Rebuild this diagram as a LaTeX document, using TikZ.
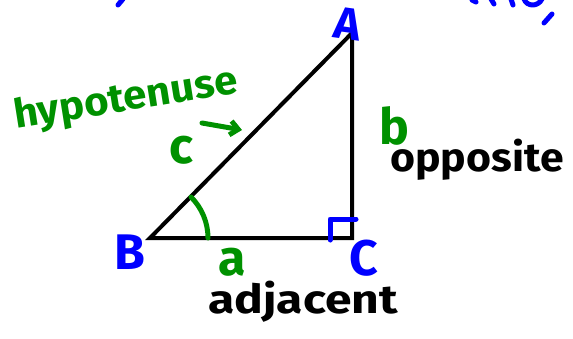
\documentclass[tikz,border=0pt]{standalone}
\usepackage{fontspec}
\setmainfont{Fira Sans}
\usetikzlibrary{arrows.meta}
\definecolor{penblue}{RGB}{0,0,255}
\definecolor{pengreen}{RGB}{0,145,0}
\begin{document}
\begin{tikzpicture}[x=1pt,y=-1pt,
  side/.style={line width=4pt,line join=miter},
  vlabel/.style={text=penblue,font=\fontsize{50}{50}\selectfont\bfseries,inner sep=0pt},
  slabel/.style={text=pengreen,font=\fontsize{50}{50}\selectfont\bfseries,inner sep=0pt},
  word/.style={text=black,font=\fontsize{40}{40}\selectfont\bfseries,inner sep=0pt},
  bluepen/.style={penblue,line width=5pt,line cap=round,line join=round},
  greenpen/.style={pengreen,line width=5pt,line cap=round,line join=round}]
\useasboundingbox (0,0) rectangle (573,338);
% triangle
\coordinate (B) at (150,238);
\coordinate (C) at (352,238);
\coordinate (A) at (352,33);
\draw[side] (B) -- (C) -- (A) -- cycle;
% right angle mark
\coordinate (r1) at (330,240);
\coordinate (r2) at (330,219);
\coordinate (r3) at (356,219);
\draw[bluepen] (r1) -- (r2) -- (r3);
% angle arc at B
\draw[greenpen] ([shift={(-45:58)}]B) arc[start angle=-45,end angle=0,radius=58];
% vertex labels
\node[vlabel,rotate=-8,scale=0.9] (lA) at (348,24) {A};
\node[vlabel] (lB) at (130,252) {B};
\node[vlabel] (lC) at (364,258) {C};
% side labels
\node[slabel] (lc) at (181,150) {c};
\node[slabel] (la) at (232,262) {a};
\node[slabel] (lb) at (394,126) {b};
% words
\node[text=pengreen,font=\fontsize{40}{40}\selectfont\bfseries,inner sep=0pt,rotate=9,xscale=1.05] (hyp) at (126,100) {hypotenuse};
\coordinate (ar1) at (202,123);
\coordinate (ar2) at (242,130);
\draw[greenpen,-{Straight Barb[length=8pt,width=14pt,line width=5pt]}] (ar1) -- (ar2);
\node[word,xscale=1.07] (opp) at (477,160) {opposite};
\node[word,xscale=1.2] (adj) at (303,302) {adjacent};
% fragments of writing at the top edge
\draw[bluepen] (118,5) -- (123,-1);
\draw[bluepen] (472,0) -- (476,2);
\draw[bluepen] (491,-1) -- (494,4);
\draw[bluepen] (511,-1) -- (513,5);
\draw[bluepen] (524,-1) .. controls (527,7) and (538,7) .. (542,-1);
\draw[bluepen] (544,23) -- (552,14);
\end{tikzpicture}
\end{document}
